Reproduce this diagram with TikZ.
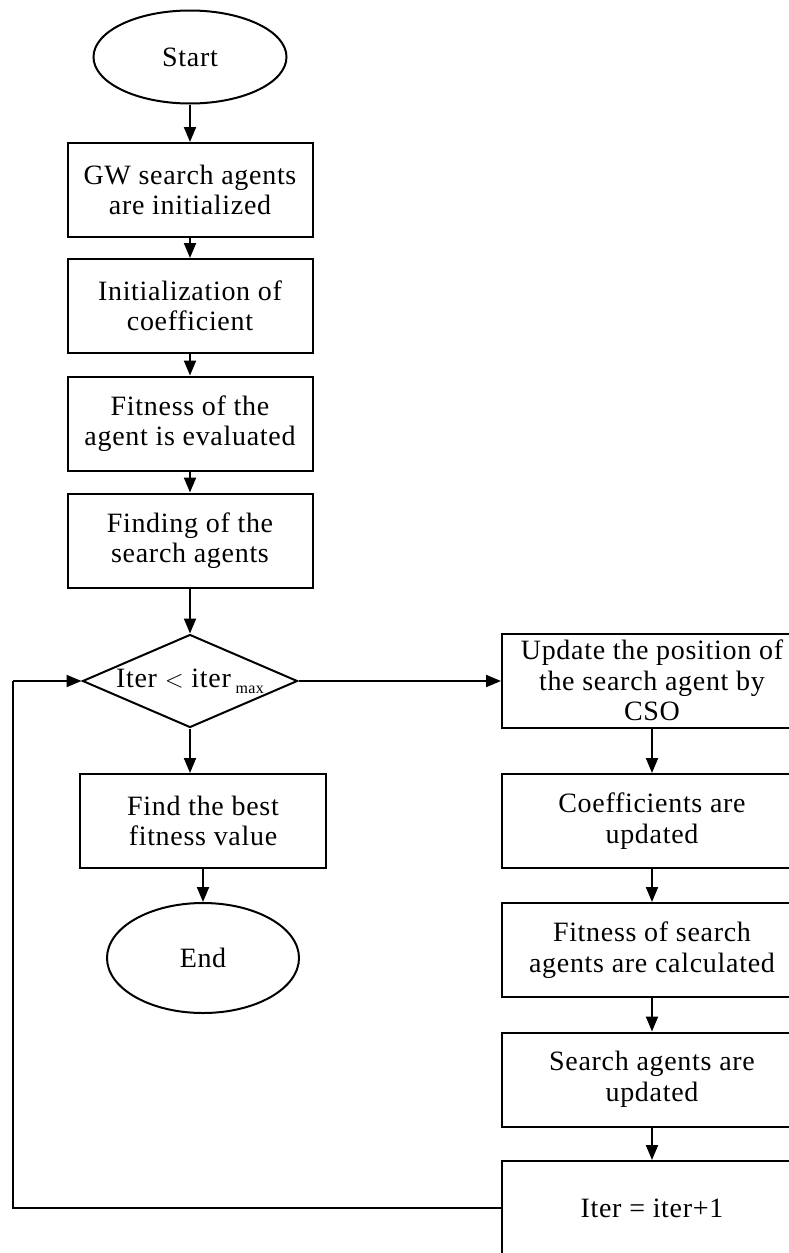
\documentclass[tikz,border=0pt]{standalone}
\usepackage{fontspec}
\setmainfont{Liberation Serif}[LetterSpace=2.5]
\usetikzlibrary{shapes.geometric,arrows.meta}
\begin{document}
\begin{tikzpicture}[x=1pt,y=-1pt,
  every node/.style={font=\fontsize{28}{30.5}\selectfont, align=center, inner sep=0pt},
  base/.style={draw, line width=2pt},
  stepbox/.style={base, rectangle, minimum width=245pt, minimum height=94pt},
  rbox/.style={base, rectangle, minimum width=300pt, minimum height=94pt},
  term/.style={base, ellipse},
  arr/.style={line width=2pt, -{Triangle[length=15pt,width=12pt]}},
  ln/.style={line width=2pt}]
\clip (0,0) rectangle (789,1253);
\fill[white] (0,0) rectangle (789,1253);
% left column
\node[term, minimum width=193pt, minimum height=93pt] (start) at (190,57) {Start};
\node[stepbox] (b1) at (190,190) {GW search agents\\are initialized};
\node[stepbox] (b2) at (190,306) {Initialization of\\coefficient};
\node[stepbox] (b3) at (190,423.5) {Fitness of the\\agent is evaluated};
\node[stepbox] (b4) at (190,540.5) {Finding of the\\search agents};
\node[base, diamond, minimum width=215pt, minimum height=93pt,
  label={[xshift=0pt]center:{Iter $<$ iter\,\raisebox{-6pt}{\fontsize{16}{16}\selectfont max}}}] (dec) at (190,681) {};
\node[stepbox, minimum width=246pt] (best) at (203,821) {Find the best\\fitness value};
\node[term, minimum width=192pt, minimum height=110pt] (end) at (203,958) {End};
% right column
\node[rbox] (upd) at (652,680.5) {Update the position of\\the search agent by\\CSO};
\node[rbox] (coef) at (652,821) {Coefficients are\\updated};
\node[rbox] (fit) at (652,950) {Fitness of search\\agents are calculated};
\node[rbox] (srch) at (652,1079.5) {Search agents are\\updated};
\node[rbox] (it) at (652,1208) {Iter = iter+1};
\coordinate (lb) at (13,1208);
\coordinate (lt) at (13,681);
% connectors
\draw[arr] (start) -- (b1);
\draw[arr] (b1) -- (b2);
\draw[arr] (b2) -- (b3);
\draw[arr] (b3) -- (b4);
\draw[arr] (b4) -- (dec);
\draw[arr] (dec.south) -- (dec.south |- best.north);
\draw[arr] (best) -- (end);
\draw[arr] (dec.east) -- (upd.west |- dec.east);
\draw[arr] (upd) -- (coef);
\draw[arr] (coef) -- (fit);
\draw[arr] (fit) -- (srch);
\draw[arr] (srch) -- (it);
\draw[ln] (it.west) -- (lb) -- (lt);
\draw[arr] (lt) -- (dec.west);
\end{tikzpicture}
\end{document}
